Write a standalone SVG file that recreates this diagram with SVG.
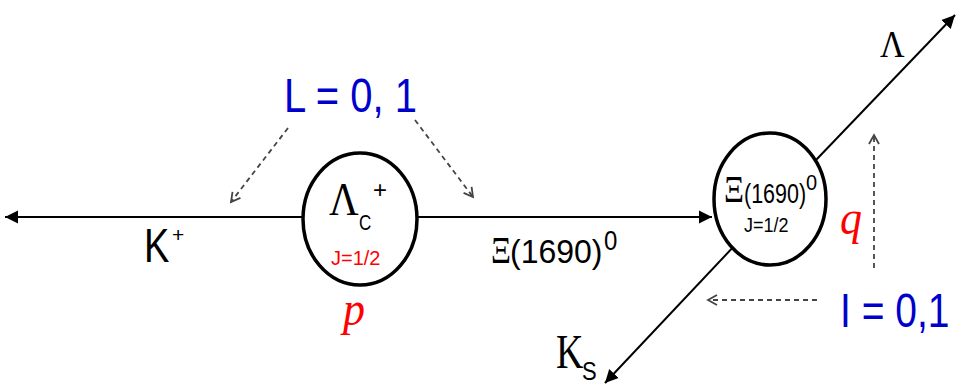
<svg xmlns="http://www.w3.org/2000/svg" width="960" height="386" viewBox="0 0 960 386">
<style>
.sans{font-family:"Liberation Sans",Arial,sans-serif}
.serif{font-family:"Liberation Serif","Times New Roman",serif}
.blue{fill:#0000cc}
.red{fill:#ff0000}
.blk{fill:#000}
.solid{stroke:#000;stroke-width:2;fill:none}
.dash{stroke:#444;stroke-width:1.8;stroke-dasharray:5 4;fill:none}
.node{fill:#fff;stroke:#000;stroke-width:3.5}
</style>
<defs>
<marker id="ah" markerUnits="userSpaceOnUse" markerWidth="14" markerHeight="14" refX="13" refY="7" orient="auto">
<path d="M0,0.5 L13,7 L0,13.5 z" fill="#000"/>
</marker>
<marker id="oh" markerUnits="userSpaceOnUse" markerWidth="12" markerHeight="12" refX="10" refY="6" orient="auto">
<path d="M1,1 L10,6 L1,11" fill="none" stroke="#444" stroke-width="1.8"/>
</marker>
</defs>
<rect width="960" height="386" fill="#fff"/>
<g id="connectors">
<line class="solid" x1="303" y1="217" x2="5" y2="217" marker-end="url(#ah)"/>
<line class="solid" x1="417" y1="217" x2="712" y2="217" marker-end="url(#ah)"/>
<line class="solid" x1="770" y1="208" x2="955" y2="15" marker-end="url(#ah)"/>
<line class="solid" x1="770" y1="208" x2="605" y2="383" marker-end="url(#ah)"/>
<line class="dash" x1="288" y1="128" x2="231" y2="202" marker-end="url(#oh)"/>
<line class="dash" x1="415" y1="120" x2="473" y2="197" marker-end="url(#oh)"/>
<line class="dash" x1="817" y1="300" x2="708" y2="300" marker-end="url(#oh)"/>
<line class="dash" x1="874" y1="268" x2="874" y2="135" marker-end="url(#oh)"/>
</g>
<g id="lambda_c">
<ellipse class="node" cx="360" cy="219" rx="57" ry="66"/>
<text class="serif blk" font-size="41" transform="translate(329,215) scale(1,1.12)">Λ</text>
<text class="sans blk" font-size="17" transform="translate(359,230) scale(1,1.25)">C</text>
<text class="sans blk" font-size="24" transform="translate(373,198)">+</text>
<text class="sans red" font-size="20" x="331" y="265">J=1/2</text>
</g>
<g id="xi1690">
<ellipse class="node" cx="770" cy="199" rx="56" ry="66"/>
<text class="serif blk" font-size="31" transform="translate(724,202) scale(1,1.2)">Ξ</text>
<text class="sans blk" font-size="21.5" transform="translate(744,203) scale(1,1.3)">(1690)</text>
<text class="sans blk" font-size="20" transform="translate(806,190) scale(1,1.1)">0</text>
<text class="sans blk" font-size="18" transform="translate(744,232) scale(1,1.12)">J=1/2</text>
</g>
<g id="labels">
<text class="sans blue" font-size="40" transform="translate(284,112) scale(1,1.22)">L = 0, 1</text>
<text class="sans blk" font-size="38" transform="translate(144,262) scale(1,1.25)">K</text>
<text class="sans blk" font-size="21" x="172" y="242">+</text>
<text class="serif blk" font-size="31" transform="translate(491,263) scale(1,1.2)">Ξ</text>
<text class="sans blk" font-size="32" transform="translate(510,263) scale(1,1.05)">(1690)</text>
<text class="sans blk" font-size="24" transform="translate(604,250) scale(1,1.15)">0</text>
<text class="serif red" font-size="44" font-style="italic" transform="translate(343,325) scale(1,1.1)">p</text>
<text class="serif red" font-size="44" font-style="italic" transform="translate(840,234) scale(1,1.1)">q</text>
<text class="serif blk" font-size="34" transform="translate(880,57) scale(1,1.1)">Λ</text>
<text class="serif blk" font-size="38" transform="translate(556,368) scale(1,1.3)">K</text>
<text class="sans blk" font-size="22" transform="translate(582,380) scale(1,1.15)">S</text>
<text class="sans blue" font-size="39" transform="translate(840,327) scale(1,1.22)">I = 0,1</text>
</g>
</svg>
